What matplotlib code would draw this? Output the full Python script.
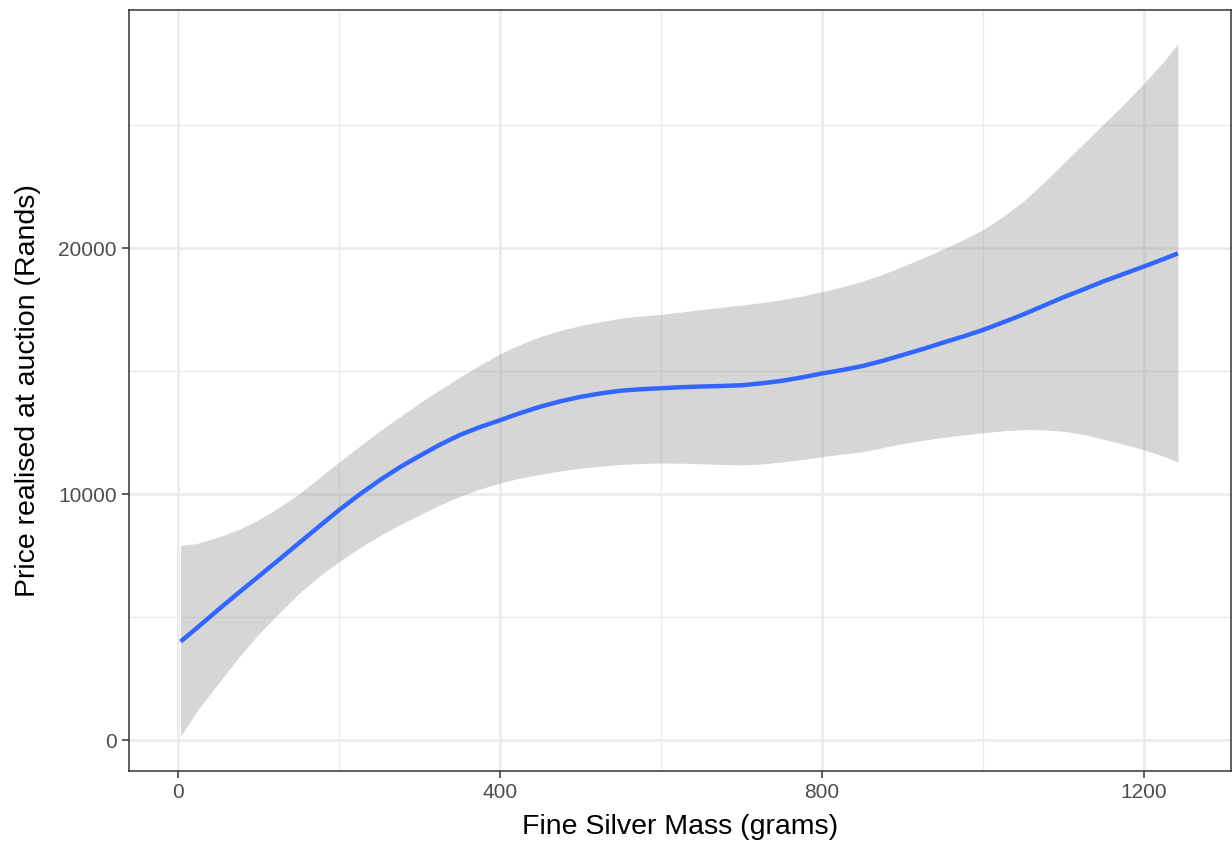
import numpy as np
import matplotlib.pyplot as plt

plt.rcParams['font.family'] = ['Liberation Sans', 'DejaVu Sans']

# loess fit and 95% band
mass = [3, 25, 50, 75, 100, 125, 150, 175, 200, 225, 250, 275, 300, 325, 350,
        375, 400, 425, 450, 475, 500, 525, 550, 575, 600, 625, 650, 675, 700,
        725, 750, 775, 800, 825, 850, 875, 900, 925, 950, 975, 1000, 1025,
        1050, 1075, 1100, 1125, 1150, 1175, 1200, 1225, 1242]
fit = [4000, 4600, 5300, 5980, 6650, 7320, 8000, 8680, 9350, 9970, 10550,
       11080, 11550, 12000, 12400, 12720, 13000, 13290, 13550, 13770, 13950,
       14090, 14200, 14260, 14300, 14340, 14370, 14390, 14420, 14500, 14600,
       14740, 14900, 15040, 15200, 15410, 15650, 15890, 16150, 16400, 16670,
       16980, 17300, 17650, 18000, 18320, 18650, 18950, 19250, 19560, 19780]
upper = [7900, 8000, 8250, 8550, 8950, 9450, 10000, 10650, 11300, 11930,
         12550, 13130, 13700, 14240, 14750, 15240, 15700, 16080, 16400, 16650,
         16850, 17010, 17150, 17230, 17300, 17400, 17500, 17590, 17680, 17780,
         17900, 18050, 18220, 18420, 18650, 18930, 19250, 19590, 19950, 20330,
         20750, 21280, 21900, 22650, 23450, 24250, 25050, 25850, 26700, 27600,
         28300]
lower = [150, 1250, 2300, 3350, 4300, 5150, 5950, 6650, 7250, 7800, 8300,
         8750, 9150, 9550, 9900, 10200, 10450, 10650, 10800, 10940, 11050,
         11130, 11200, 11240, 11260, 11250, 11230, 11200, 11180, 11220, 11300,
         11400, 11520, 11620, 11720, 11880, 12050, 12180, 12300, 12400, 12490,
         12570, 12620, 12610, 12550, 12420, 12230, 12020, 11800, 11520, 11300]

fig = plt.figure(figsize=(12.32, 8.48), dpi=100)
ax = fig.add_axes([129 / 1232, 77 / 848, 1102 / 1232, 761 / 848])

ax.fill_between(mass, lower, upper, color='#999999', alpha=0.4, lw=0, zorder=2)
ax.plot(mass, fit, color='#3366FF', lw=3.2, zorder=3,
        solid_capstyle='butt', solid_joinstyle='round')

ax.set_xlim(-61, 1308)
ax.set_ylim(-1260, 29675)
ax.set_xticks([0, 400, 800, 1200])
ax.set_yticks([0, 10000, 20000])
ax.set_xticks([200, 600, 1000], minor=True)
ax.set_yticks([5000, 15000, 25000], minor=True)

ax.grid(which='major', color='#EBEBEB', lw=1.9, zorder=0)
ax.grid(which='minor', color='#EBEBEB', lw=0.95, zorder=0)
ax.set_axisbelow(True)

for s in ax.spines.values():
    s.set_color('#333333')
    s.set_linewidth(1.1)

ax.tick_params(which='major', length=5, width=1.1, color='#333333',
               labelcolor='#4D4D4D', labelsize=15, pad=4)
ax.tick_params(which='minor', length=0)

ax.set_xlabel('Fine Silver Mass (grams)', fontsize=20.5, color='black', labelpad=8)
ax.set_ylabel('Price realised at auction (Rands)', fontsize=20.5, color='black', labelpad=12)

fig.savefig('out.png', dpi=100)
